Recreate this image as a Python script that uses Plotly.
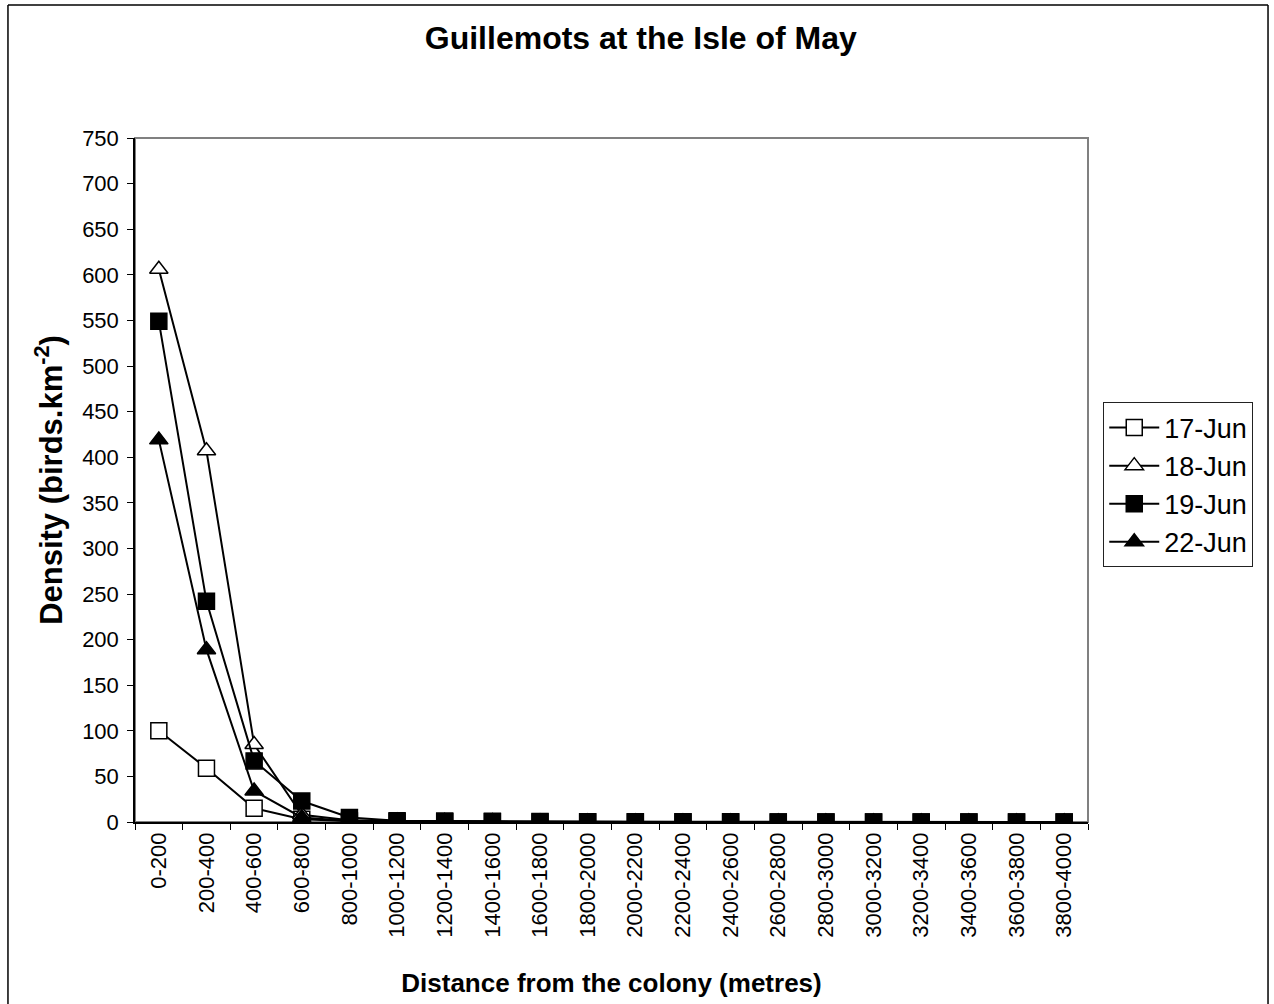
import plotly.graph_objects as go

categories = ["0-200", "200-400", "400-600", "600-800", "800-1000", "1000-1200",
              "1200-1400", "1400-1600", "1600-1800", "1800-2000", "2000-2200",
              "2200-2400", "2400-2600", "2600-2800", "2800-3000", "3000-3200",
              "3200-3400", "3400-3600", "3600-3800", "3800-4000"]

jun17 = [100, 59, 15, 3, 1, 0.5, 0.3, 0.2, 0, 0, 0, 0, 0, 0, 0, 0, 0, 0, 0, 0]
jun18 = [606, 407, 85, 8, 2, 1, 0.5, 0.3, 0, 0, 0, 0, 0, 0, 0, 0, 0, 0, 0, 0]
jun19 = [549, 242, 67, 23, 5, 1.5, 1, 0.7, 0.5, 0.4, 0.3, 0.2, 0.2, 0.1, 0.1, 0.1, 0.1, 0, 0, 0]
jun22 = [419, 189, 34, 5, 1, 0.5, 0.3, 0.2, 0, 0, 0, 0, 0, 0, 0, 0, 0, 0, 0, 0]

series = [
    ("17-Jun", jun17, "square", "white"),
    ("18-Jun", jun18, "triangle-up", "white"),
    ("19-Jun", jun19, "square", "black"),
    ("22-Jun", jun22, "triangle-up", "black"),
]

FONT = "Liberation Sans, Arial, sans-serif"

fig = go.Figure()
for name, vals, sym, fill in series:
    fig.add_trace(go.Scatter(
        x=categories, y=vals, name=name, mode="lines+markers",
        line=dict(color="black", width=2),
        marker=dict(symbol=sym, size=16, color=fill, line=dict(color="black", width=1.5)),
    ))

# plot-area border (grey) and outer chart border (black)
fig.add_shape(type="rect", xref="paper", yref="paper", x0=0, x1=1, y0=0, y1=1,
              line=dict(color="#808080", width=2), layer="below")
fig.add_shape(type="line", xref="paper", yref="paper",
              x0=-0.1333, x1=-0.1333, y0=-0.3, y1=1.1944, line=dict(color="black", width=1.5))
fig.add_shape(type="line", xref="paper", yref="paper",
              x0=1.1889, x1=1.1889, y0=-0.3, y1=1.1944, line=dict(color="black", width=1.5))
fig.add_shape(type="line", xref="paper", yref="paper",
              x0=-0.1333, x1=1.1889, y0=1.1944, y1=1.1944, line=dict(color="black", width=1.5))

fig.update_layout(
    width=1274, height=1004,
    margin=dict(l=135, r=186, t=138, b=182),
    paper_bgcolor="white", plot_bgcolor="white",
    font=dict(family=FONT, size=22, color="black"),
    title=dict(text="<b>Guillemots at the Isle of May</b>", x=0.503, xanchor="center",
               y=0.962, yanchor="middle", font=dict(size=32)),
    legend=dict(x=1.016, xanchor="left", y=0.4927, yanchor="middle",
                bordercolor="#222222", borderwidth=1, font=dict(size=27),
                itemwidth=50, tracegroupgap=4),
    showlegend=True,
)
fig.update_xaxes(
    type="category", tickson="boundaries", ticks="outside", ticklen=6, tickcolor="black",
    tickangle=-90, tickfont=dict(size=22),
    showline=True, linecolor="black", linewidth=1.5, showgrid=False, zeroline=False,
    title=dict(text="<b>Distance from the colony (metres)</b>", font=dict(size=26), standoff=37),
    range=[-0.5, 19.5],
)
fig.update_yaxes(
    range=[0, 750], dtick=50, ticks="outside", ticklen=6, tickcolor="black",
    tickfont=dict(size=22), ticklabelstandoff=4,
    showline=True, linecolor="black", linewidth=1.5, showgrid=False, zeroline=False,
    title=dict(text="<b>Density (birds.km<sup>-2</sup>)</b>", font=dict(size=31), standoff=10),
)

fig.write_html("out.html", config={"displayModeBar": False},
               post_script="document.body.style.margin='0px';")
